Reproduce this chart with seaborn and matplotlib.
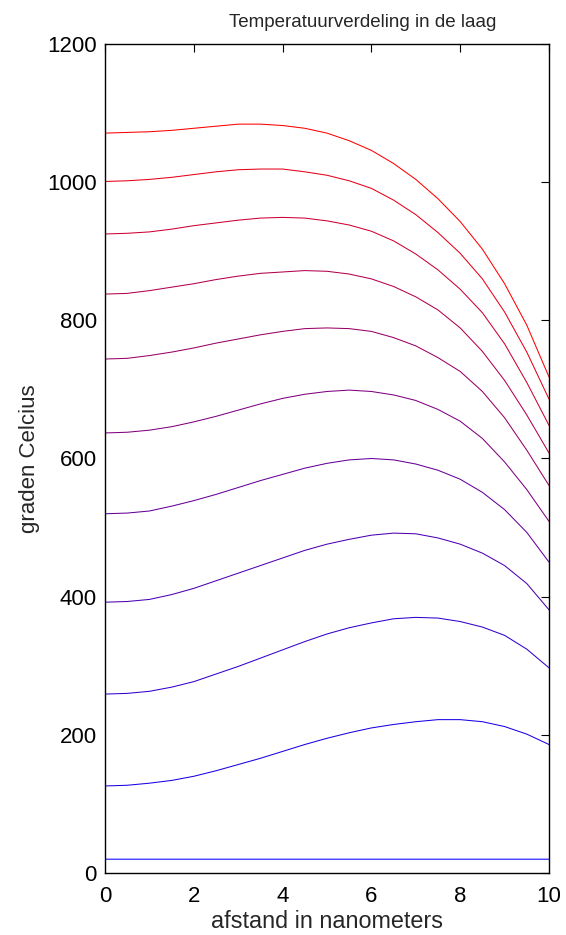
import matplotlib
matplotlib.use("Agg")
import matplotlib.pyplot as plt
import seaborn as sns
import pandas as pd

# ---- data ----
afstand_nm = [0, 0.5, 1, 1.5, 2, 2.5, 3, 3.5, 4, 4.5, 5, 5.5, 6, 6.5, 7, 7.5, 8,
              8.5, 9, 9.5, 10]

t_00 = [20, 20, 20, 20, 20, 20, 20, 20, 20, 20, 20, 20, 20, 20, 20, 20, 20, 20, 20, 20, 20]
t_01 = [126, 127, 130, 134, 140, 148, 157, 166, 176, 186, 195, 203, 210, 215, 219, 222, 222, 219, 212, 201, 186]
t_02 = [259, 260, 263, 269, 277, 288, 299, 311, 323, 335, 346, 355, 362, 368, 370, 369, 364, 356, 344, 324, 297]
t_03 = [392, 393, 396, 403, 412, 423, 434, 445, 456, 467, 476, 483, 489, 492, 491, 485, 476, 463, 445, 419, 381]
t_04 = [520, 521, 524, 531, 539, 548, 558, 568, 577, 586, 593, 598, 600, 598, 592, 583, 570, 551, 526, 493, 450]
t_05 = [637, 638, 641, 646, 653, 661, 670, 679, 687, 693, 697, 699, 697, 692, 684, 671, 654, 629, 595, 555, 509]
t_06 = [744, 745, 749, 754, 760, 767, 773, 779, 784, 788, 789, 788, 784, 775, 763, 746, 726, 697, 659, 612, 561]
t_07 = [838, 839, 843, 848, 853, 859, 864, 868, 870, 872, 871, 867, 860, 849, 834, 815, 789, 755, 713, 663, 608]
t_08 = [925, 926, 928, 932, 937, 941, 945, 948, 949, 948, 944, 938, 929, 915, 896, 873, 845, 811, 766, 710, 648]
t_09 = [1001, 1002, 1004, 1007, 1011, 1015, 1018, 1019, 1019, 1015, 1010, 1002, 991, 974, 953, 927, 897, 860, 812, 754, 686]
t_10 = [1071, 1072, 1073, 1075, 1078, 1081, 1084, 1084, 1082, 1078, 1071, 1060, 1046, 1027, 1004, 976, 943, 903, 853, 793, 718]

curves = [t_00, t_01, t_02, t_03, t_04, t_05, t_06, t_07, t_08, t_09, t_10]

x_ticks = [0, 2, 4, 6, 8, 10]
y_ticks = [0, 200, 400, 600, 800, 1000, 1200]

title = "Temperatuurverdeling in de laag"
xlabel = "afstand in nanometers"
ylabel = "graden Celcius"

sns.set_style("white")
plt.rcParams["font.family"] = ["Liberation Sans", "DejaVu Sans"]

W, H = 566, 935
fig = plt.figure(figsize=(W / 100, H / 100), dpi=100)
ax_l, ax_r, ax_t, ax_b = 105, 549, 44, 873
ax = fig.add_axes([ax_l / W, (H - ax_b) / H, (ax_r - ax_l) / W, (ax_b - ax_t) / H])

n = len(curves)
for k, ys in enumerate(curves):
    frac = k / (n - 1)
    col = (frac, 0.0, 1.0 - frac)
    d = pd.DataFrame({"afstand": afstand_nm, "temp": ys})
    sns.lineplot(data=d, x="afstand", y="temp", color=col, ax=ax,
                 linewidth=0.75, estimator=None, legend=False)
    ax.lines[-1].set_snap(False)

ax.set_xlim(0, 10)
ax.set_ylim(0, 1200)
ax.set_xticks(x_ticks)
ax.set_yticks(y_ticks)
ax.set_xticklabels([str(v) for v in x_ticks])
ax.set_yticklabels([str(v) for v in y_ticks])

for s in ax.spines.values():
    s.set_visible(True)
    s.set_color("black")
    s.set_linewidth(1.0)

ax.tick_params(axis="both", which="both", direction="in", length=5.8, width=0.8,
               color="black", top=True, right=True, labelsize=16,
               labelcolor="black")
ax.tick_params(axis="x", pad=9)
ax.tick_params(axis="y", pad=6)

ax.set_xlabel(xlabel, fontsize=16.8)
ax.xaxis.label.set_va("baseline")
ax.xaxis.set_label_coords(0.5, (ax_b - 928) / (ax_b - ax_t))

ax.set_ylabel(ylabel, fontsize=16)
ax.yaxis.label.set_va("center")
ax.yaxis.set_label_coords((29 - ax_l) / (ax_r - ax_l), 0.5)

ax.set_title(title, fontsize=13.5, x=(363 - ax_l) / (ax_r - ax_l),
             y=(ax_b - 27) / (ax_b - ax_t), va="baseline", pad=0)

fig.savefig("out.png", dpi=100)
